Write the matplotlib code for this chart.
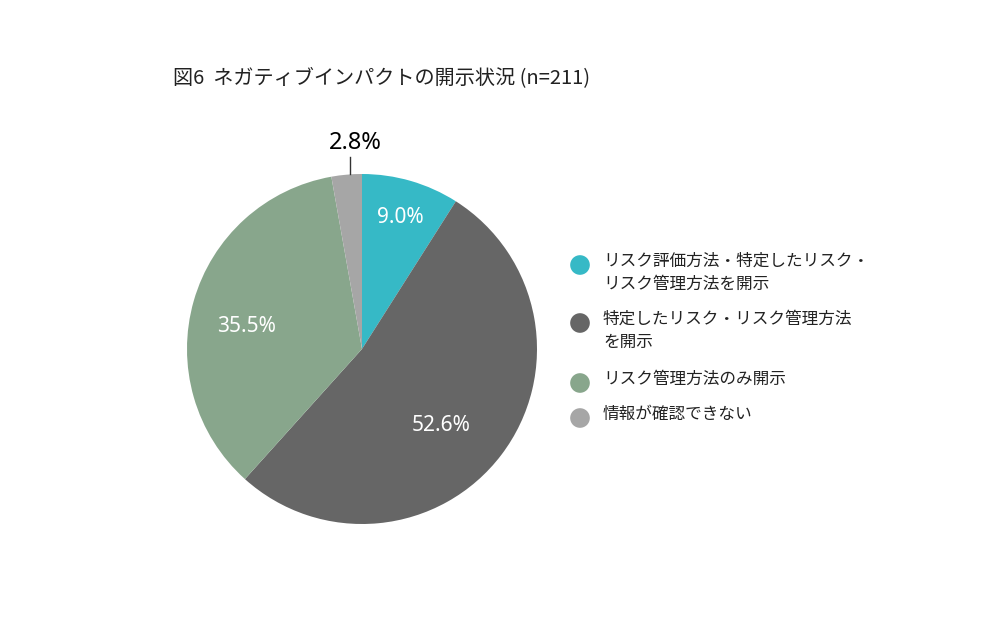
import matplotlib.pyplot as plt
import numpy as np

# data
labels = ["リスク評価方法・特定したリスク・\nリスク管理方法を開示",
          "特定したリスク・リスク管理方法\nを開示",
          "リスク管理方法のみ開示",
          "情報が確認できない"]
values = [9.0, 52.6, 35.5, 2.8]
colors = ["#36B9C6", "#666666", "#88A68C", "#A6A6A6"]
title = "図6  ネガティブインパクトの開示状況 (n=211)"

jp = ["Noto Sans CJK JP", "DejaVu Sans"]
num = ["Noto Sans", "DejaVu Sans"]

fig = plt.figure(figsize=(10, 6.37), dpi=100)
W, H = 1000, 637

# pie axes: centre (362, 349) px, radius 175 px
cx, cy, r = 362, 349, 175
ax = fig.add_axes([(cx - r) / W, (H - cy - r) / H, 2 * r / W, 2 * r / H])
wedges, _ = ax.pie(values, colors=colors, startangle=90, counterclock=False,
                   radius=1, wedgeprops=dict(linewidth=0))
ax.set_xlim(-1, 1)
ax.set_ylim(-1, 1)
ax.set_aspect("equal")
ax.axis("off")

# percentage labels inside (angle offset, radius) tuned per wedge
tweak = [(0, 0.78), (-6.8, 0.63), (4.9, 0.67)]
for w, v, (da, rr) in zip(wedges[:3], values[:3], tweak):
    ang = np.deg2rad((w.theta1 + w.theta2) / 2 + da)
    ax.text(rr * np.cos(ang), rr * np.sin(ang), f"{v:.1f}%", color="white",
            ha="center", va="center", fontsize=15, family=num)

# small wedge label outside with leader line
ang = np.deg2rad(94)
x0, y0 = np.cos(ang), np.sin(ang)
ax.plot([x0, x0], [y0, y0 + 0.1], color="#333333", lw=1, clip_on=False)
ax.text(x0 + 0.03, y0 + 0.18, f"{values[3]:.1f}%", color="black",
        ha="center", va="center", fontsize=17, family=num)

# title
fig.text(173 / W, 1 - 78 / H, title, ha="left", va="center",
         fontsize=14.5, family=jp, color="#222222")

# legend drawn by hand
ys = [265, 323, 383, 418]
for y, lab in zip(ys, labels):
    fig.text(603 / W, 1 - (y - 12) / H, lab, ha="left", va="top", fontsize=12,
             family=jp, color="#222222", linespacing=1.45)

lax = fig.add_axes([0, 0, 1, 1], facecolor="none")
lax.set_xlim(0, W)
lax.set_ylim(H, 0)
lax.axis("off")
lax.scatter([580] * len(ys), ys, s=200, c=colors, edgecolors="none")

fig.savefig("out.png", dpi=100)
